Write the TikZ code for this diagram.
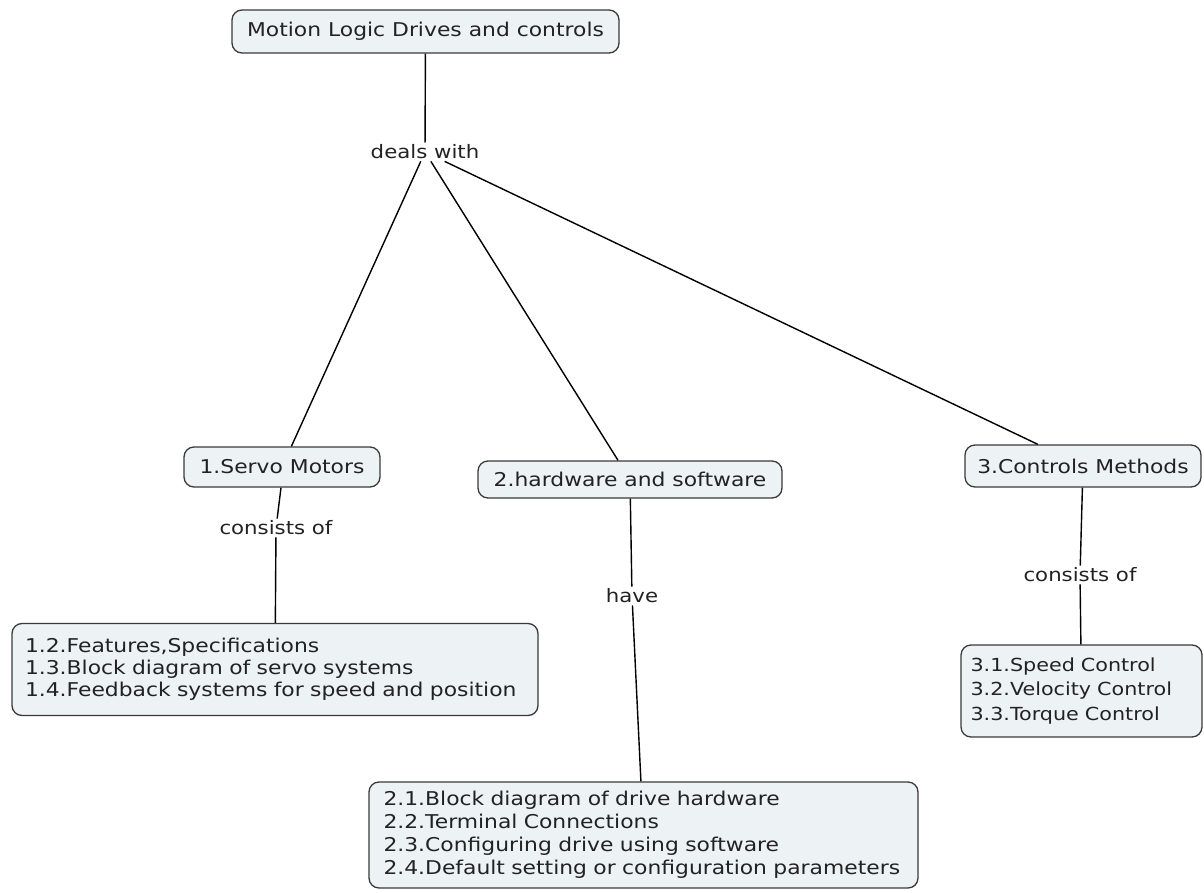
\documentclass[tikz,border=0pt]{standalone}
\usepackage{fontspec}
\setmainfont{DejaVu Sans}
\newfontfamily\widefont[FakeStretch=1.15]{DejaVu Sans}
\usetikzlibrary{calc}
\definecolor{boxfill}{HTML}{EDF2F4}
\definecolor{boxdraw}{HTML}{3A3A3A}
\definecolor{txt}{HTML}{222222}
\begin{document}
\begin{tikzpicture}[x=1pt,y=-1pt,
  topic/.style={draw=boxdraw,fill=boxfill,line width=1.3pt,rounded corners=10pt,
    inner sep=0pt,text=txt,font=\widefont\fontsize{19}{23}\selectfont},
  leaf/.style={draw=boxdraw,fill=boxfill,line width=1.3pt,rounded corners=10pt,
    inner sep=0pt,text=txt,align=left},
  lbl/.style={inner sep=2pt,text=txt,font=\widefont\fontsize{18.5}{22}\selectfont},
  link/.style={draw=black,line width=1.4pt}]
\useasboundingbox (0,0) rectangle (1204,893);
\node[topic,minimum width=387pt,minimum height=43pt] (top) at (425.5,31.5) {Motion Logic Drives and controls};
\node[topic,minimum width=196pt,minimum height=40pt] (servo) at (282,467) {1.Servo Motors};
\node[topic,minimum width=304pt,minimum height=37pt] (hw) at (630,479.5) {2.hardware and software};
\node[topic,minimum width=236pt,minimum height=42pt] (ctrl) at (1083,466) {3.Controls Methods};
\node[leaf,minimum width=526pt,minimum height=92pt,text width=500pt,font=\widefont\fontsize{19}{22}\selectfont] (b1) at (275,669.5)
  {1.2.Features,Specifications\\1.3.Block diagram of servo systems\\1.4.Feedback systems for speed and position};
\node[leaf,minimum width=549pt,minimum height=106pt,text width=520pt,font=\widefont\fontsize{19}{23}\selectfont] (b2) at (643.5,835)
  {2.1.Block diagram of drive hardware\\2.2.Terminal Connections\\2.3.Configuring drive using software\\2.4.Default setting or configuration parameters};
\node[leaf,minimum width=241pt,minimum height=92pt,text width=222pt,font=\widefont\fontsize{18}{24.5}\selectfont] (b3) at (1081.5,691)
  {3.1.Speed Control\\3.2.Velocity Control\\3.3.Torque Control};
\node[lbl] (deals) at (425,152) {deals with};
\node[lbl] (c1) at (276,528) {consists of};
\node[lbl] (have) at (632,596) {have};
\node[lbl] (c3) at (1080,575) {consists of};
\coordinate (s1) at ([xshift=-1pt]servo.south);
\draw[link] (top) -- (deals);
\draw[link] (deals) -- (servo);
\draw[link] (deals) -- (hw);
\draw[link] (deals) -- (ctrl);
\draw[link] (s1) -- (c1);
\draw[link] (c1) -- (b1);
\draw[link] (hw) -- (have);
\draw[link] (have) -- (b2);
\draw[link] (ctrl) -- (c3);
\draw[link] (c3) -- (b3);
\end{tikzpicture}
\end{document}
